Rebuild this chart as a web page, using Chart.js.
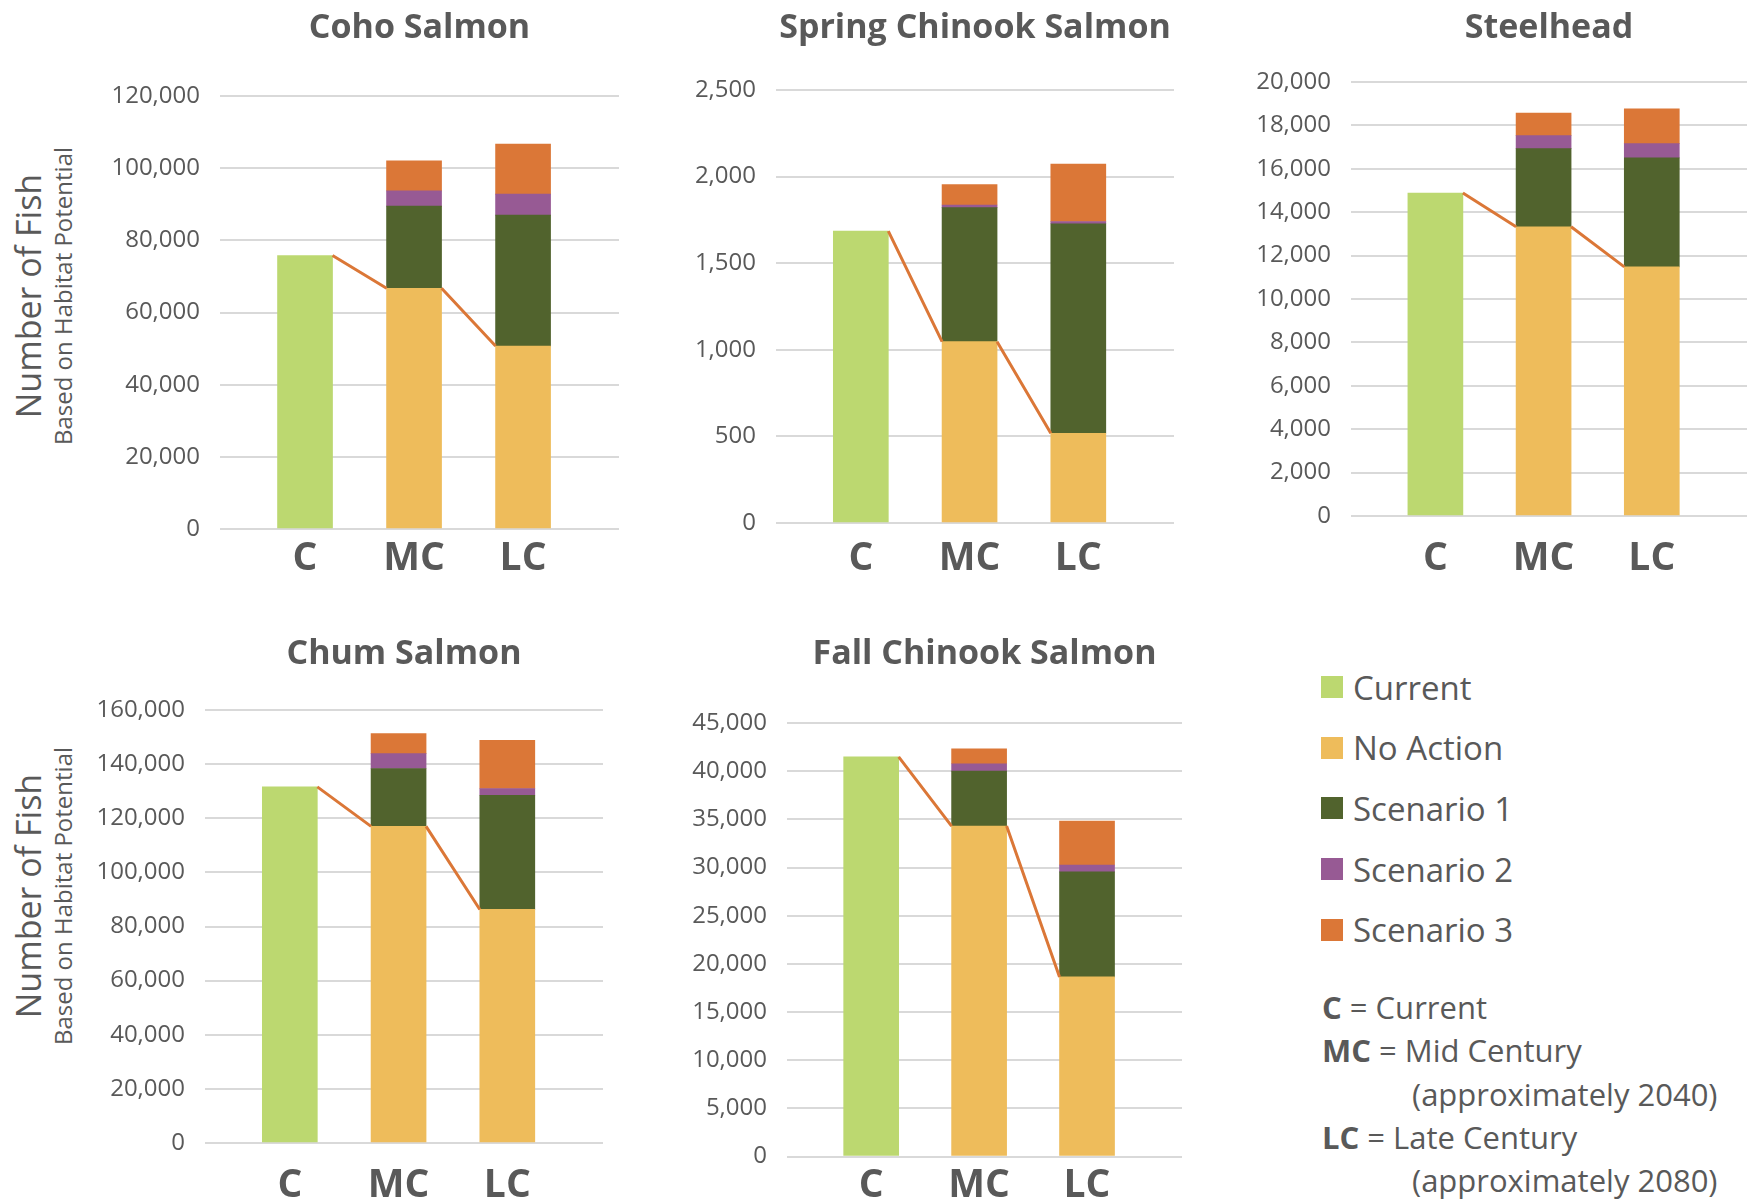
<!DOCTYPE html>
<html>
<head>
<meta charset="utf-8">
<title>Number of Fish by Species</title>
<script src="https://cdn.jsdelivr.net/npm/chart.js@4.4.1/dist/chart.umd.min.js"></script>
<style>
    body { margin: 0; background: #fff; width: 1756px; height: 1203px; position: relative; overflow: hidden;
           font-family: 'Open Sans', sans-serif; color: #595959; }
    canvas { position: absolute; }
    .ytitle { position: absolute; transform: translate(-50%, -50%) rotate(-90deg); text-align: center; white-space: nowrap; }
    .ytitle .big { font-size: 34px; line-height: 40.8px; }
    .ytitle .small { font-size: 24px; line-height: 28.8px; }
    #legend { position: absolute; left: 1321px; top: 657px; }
    #legend .item { display: flex; align-items: center; height: 60.6px; font-size: 33px; }
    #legend .swatch { width: 22px; height: 22px; margin-right: 10px; }
    #notes { position: absolute; left: 1322px; top: 986px; font-size: 31px; line-height: 43.3px; white-space: nowrap; }
    #notes .indent { padding-left: 90px; }
</style>
</head>
<body>
<div class="ytitle" style="left:43px; top:296px;"><div class="big">Number of Fish</div><div class="small">Based on Habitat Potential</div></div>
<div class="ytitle" style="left:43px; top:896px;"><div class="big">Number of Fish</div><div class="small">Based on Habitat Potential</div></div>
<div id="legend"></div>
<div id="notes">
    <div><b>C</b> = Current</div>
    <div><b>MC</b> = Mid Century</div>
    <div class="indent">(approximately 2040)</div>
    <div><b>LC</b> = Late Century</div>
    <div class="indent">(approximately 2080)</div>
</div>

<script>
// --- Data (values per category C, MC, LC; scenario values are stacked increments) ---
const categories = ['C', 'MC', 'LC'];
const seriesNames = ['Current', 'No Action', 'Scenario 1', 'Scenario 2', 'Scenario 3'];
const seriesColors = ['#BCD870', '#EEBC5B', '#51632D', '#975A94', '#DB7737'];

const cohoCurrent  = [75800, null, null];
const cohoNoAction = [null, 66700, 50700];
const cohoScen1    = [null, 22800, 36300];
const cohoScen2    = [null, 4200, 5800];
const cohoScen3    = [null, 8300, 13900];

const springCurrent  = [1685, null, null];
const springNoAction = [null, 1047, 518];
const springScen1    = [null, 774, 1210];
const springScen2    = [null, 15, 13];
const springScen3    = [null, 118, 332];

const steelCurrent  = [14880, null, null];
const steelNoAction = [null, 13330, 11480];
const steelScen1    = [null, 3600, 5020];
const steelScen2    = [null, 600, 660];
const steelScen3    = [null, 1040, 1600];

const chumCurrent  = [131600, null, null];
const chumNoAction = [null, 117000, 86300];
const chumScen1    = [null, 21400, 42200];
const chumScen2    = [null, 5500, 2500];
const chumScen3    = [null, 7400, 17800];

const fallCurrent  = [41480, null, null];
const fallNoAction = [null, 34300, 18640];
const fallScen1    = [null, 5710, 10900];
const fallScen2    = [null, 760, 720];
const fallScen3    = [null, 1550, 4550];

// y-axis ranges (max, step)
const cohoAxis   = [120000, 20000];
const springAxis = [2500, 500];
const steelAxis  = [20000, 2000];
const chumAxis   = [160000, 20000];
const fallAxis   = [45000, 5000];

// --- Panels: data refs + layout (page px) ---
const panels = [
    { title: 'Coho Salmon', series: [cohoCurrent, cohoNoAction, cohoScen1, cohoScen2, cohoScen3], axis: cohoAxis,
      left: 90, top: 0, width: 533, height: 590, zero: 529, titlePad: [7.5, 47.7], xPad: 2 },
    { title: 'Spring Chinook Salmon', series: [springCurrent, springNoAction, springScen1, springScen2, springScen3], axis: springAxis,
      left: 646, top: 0, width: 532, height: 590, zero: 523, titlePad: [7.5, 41.7], xPad: 8 },
    { title: 'Steelhead', series: [steelCurrent, steelNoAction, steelScen1, steelScen2, steelScen3], axis: steelAxis,
      left: 1221, top: 0, width: 530, height: 590, zero: 516, titlePad: [7.5, 33.7], xPad: 15 },
    { title: 'Chum Salmon', series: [chumCurrent, chumNoAction, chumScen1, chumScen2, chumScen3], axis: chumAxis,
      left: 75, top: 600, width: 532, height: 603, zero: 1143, titlePad: [34.1, 35.1], xPad: 15 },
    { title: 'Fall Chinook Salmon', series: [fallCurrent, fallNoAction, fallScen1, fallScen2, fallScen3], axis: fallAxis,
      left: 657, top: 600, width: 529, height: 603, zero: 1156.5, titlePad: [34.1, 48.1], xPad: 2 }
];

const Y_AXIS_WIDTH = 130;
const TEXT = '#595959';
const FONT = 'Open Sans';

Chart.defaults.font.family = FONT;
Chart.defaults.color = TEXT;

// Excel-style series lines: join the top of the base segment of neighbouring bars
const seriesLinePlugin = {
    id: 'seriesLine',
    afterDatasetsDraw(chart, args, opts) {
        const base = opts.base;
        const xs = chart.scales.x, ys = chart.scales.y;
        const half = chart.getDatasetMeta(1).data[1].width / 2;
        const ctx = chart.ctx;
        ctx.save();
        ctx.strokeStyle = opts.color;
        ctx.lineWidth = opts.lineWidth;
        ctx.beginPath();
        for (let i = 0; i < base.length - 1; i++) {
            ctx.moveTo(xs.getPixelForValue(i) + half, ys.getPixelForValue(base[i]));
            ctx.lineTo(xs.getPixelForValue(i + 1) - half, ys.getPixelForValue(base[i + 1]));
        }
        ctx.stroke();
        ctx.restore();
    }
};

panels.forEach((p) => {
    const canvas = document.createElement('canvas');
    canvas.width = p.width;
    canvas.height = p.height;
    canvas.style.left = p.left + 'px';
    canvas.style.top = p.top + 'px';
    document.body.appendChild(canvas);

    const datasets = p.series.map((vals, s) => ({
        label: seriesNames[s],
        data: vals.map((v, i) => ({ x: i, y: v })),
        backgroundColor: seriesColors[s],
        borderWidth: 0,
        barThickness: 55
    }));
    const base = categories.map((c, i) => (i === 0 ? p.series[0][i] : p.series[1][i]));
    const xAxisH = p.top + p.height - p.zero;

    new Chart(canvas, {
        type: 'bar',
        data: { datasets },
        options: {
            responsive: false,
            animation: false,
            events: [],
            layout: { padding: { left: 0, right: 4, top: 0, bottom: 0 } },
            plugins: {
                legend: { display: false },
                tooltip: { enabled: false },
                title: {
                    display: true, text: p.title, fullSize: false, color: TEXT,
                    font: { family: FONT, size: 34, weight: 'bold', lineHeight: 1.2 },
                    padding: { top: p.titlePad[0], bottom: p.titlePad[1] }
                },
                seriesLine: { base, color: seriesColors[4], lineWidth: 3 }
            },
            scales: {
                x: {
                    type: 'linear', stacked: true, offset: false, min: -0.78, max: 2.88,
                    grid: { display: false }, border: { display: false },
                    afterBuildTicks: (scale) => { scale.ticks = categories.map((c, i) => ({ value: i })); },
                    afterFit: (scale) => { scale.height = xAxisH; },
                    ticks: {
                        autoSkip: false, maxRotation: 0, padding: p.xPad, color: TEXT,
                        font: { family: FONT, size: 39, weight: 'bold', lineHeight: 1.0 },
                        callback: (v) => categories[v]
                    }
                },
                y: {
                    stacked: true, min: 0, max: p.axis[0],
                    grid: { color: '#D9D9D9', lineWidth: 2, drawTicks: false },
                    border: { display: false },
                    afterFit: (scale) => { scale.width = Y_AXIS_WIDTH; },
                    ticks: {
                        stepSize: p.axis[1], padding: 20, color: TEXT,
                        font: { family: FONT, size: 24 },
                        callback: (v) => v.toLocaleString('en-US')
                    }
                }
            }
        },
        plugins: [seriesLinePlugin]
    });
});

// Legend built from the series names/colours
const legend = document.getElementById('legend');
seriesNames.forEach((name, s) => {
    const item = document.createElement('div');
    item.className = 'item';
    item.innerHTML = `<span class="swatch" style="background:${seriesColors[s]}"></span><span>${name}</span>`;
    legend.appendChild(item);
});
</script>
</body>
</html>
